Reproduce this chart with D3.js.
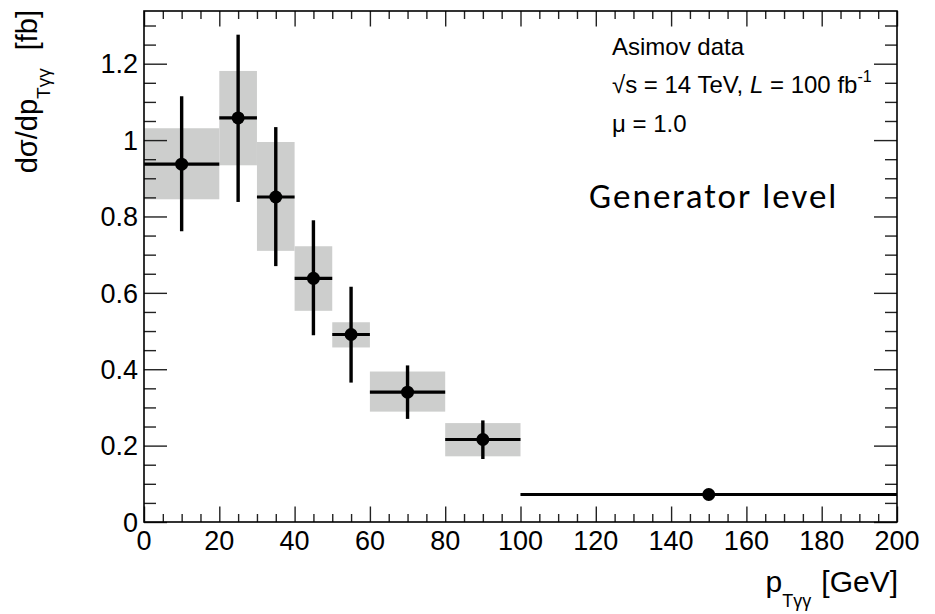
<!DOCTYPE html>
<html>
<head>
<meta charset="utf-8">
<script src="https://cdn.jsdelivr.net/npm/d3@7"></script>
<style>
  body { margin: 0; background: #fff; }
  text { font-family: "Liberation Sans", Arial, Helvetica, sans-serif; fill: #000; }
</style>
</head>
<body>
<svg id="chart" width="935" height="614"></svg>
<script>
// bins in p_T(gamma gamma) [GeV]
const binLow = [0, 20, 30, 40, 50, 60, 80, 100];
const binHigh = [20, 30, 40, 50, 60, 80, 100, 200];
const binCenter = [10, 25, 35, 45, 55, 70, 90, 150];
// d sigma / d pT [fb]
const xsec = [0.937, 1.058, 0.851, 0.638, 0.491, 0.340, 0.216, 0.072];
// black error bars (total)
const errUp = [1.115, 1.276, 1.034, 0.790, 0.616, 0.410, 0.266, 0.078];
const errDown = [0.761, 0.838, 0.670, 0.489, 0.365, 0.270, 0.165, 0.066];
// grey boxes
const boxUp = [1.031, 1.181, 0.995, 0.722, 0.523, 0.394, 0.259, 0.075];
const boxDown = [0.845, 0.934, 0.710, 0.553, 0.457, 0.289, 0.172, 0.069];
// axis ticks
const xTicks = [0, 20, 40, 60, 80, 100, 120, 140, 160, 180, 200];
const yTicks = [0, 0.2, 0.4, 0.6, 0.8, 1, 1.2];

const width = 935;
const height = 614;
const margin = { top: 11, right: 38, bottom: 92, left: 144 };
const svg = d3.select("#chart");

const x = d3.scaleLinear()
  .domain([0, 200])
  .range([margin.left, width - margin.right]);
const y = d3.scaleLinear()
  .domain([0, 1.338])
  .range([height - margin.bottom, margin.top]);

const xMinor = d3.range(0, 201, 5).filter(v => v % 20 !== 0);
const yMinor = d3.range(0, 27).map(i => i * 0.05).filter(v => Math.abs(v * 5 - Math.round(v * 5)) > 1e-6);

const rows = binCenter.map((c, i) => ({
  c, lo: binLow[i], hi: binHigh[i], v: xsec[i],
  eu: errUp[i], ed: errDown[i], bu: boxUp[i], bd: boxDown[i]
}));

// grey boxes
svg.append("g")
  .selectAll("rect")
  .data(rows)
  .join("rect")
  .attr("x", d => x(d.lo))
  .attr("width", d => x(d.hi) - x(d.lo))
  .attr("y", d => y(d.bu))
  .attr("height", d => y(d.bd) - y(d.bu))
  .attr("fill", "#cdcecd");

// error bars
const pts = svg.append("g");
pts.selectAll(".hbar")
  .data(rows)
  .join("line")
  .attr("class", "hbar")
  .attr("x1", d => x(d.lo))
  .attr("x2", d => x(d.hi))
  .attr("y1", d => y(d.v))
  .attr("y2", d => y(d.v))
  .attr("stroke", "#000")
  .attr("stroke-width", 3.2);
pts.selectAll(".vbar")
  .data(rows)
  .join("line")
  .attr("class", "vbar")
  .attr("x1", d => x(d.c))
  .attr("x2", d => x(d.c))
  .attr("y1", d => y(d.eu))
  .attr("y2", d => y(d.ed))
  .attr("stroke", "#000")
  .attr("stroke-width", 3.4);
pts.selectAll("circle")
  .data(rows)
  .join("circle")
  .attr("cx", d => x(d.c))
  .attr("cy", d => y(d.v))
  .attr("r", 6.5)
  .attr("fill", "#000");

// axes with ticks drawn inwards on all four sides
const y0 = height - margin.bottom;
const x1 = width - margin.right;

function tickAxis(axis, transform, values, size) {
  svg.append("g")
    .attr("transform", transform)
    .call(axis.tickValues(values).tickSizeInner(-size).tickSizeOuter(0).tickFormat(""))
    .call(g => g.select(".domain").remove())
    .call(g => g.selectAll("line").attr("stroke", "#222").attr("stroke-width", 1.4));
}
tickAxis(d3.axisBottom(x), `translate(0,${y0})`, xTicks, 15.5);
tickAxis(d3.axisBottom(x), `translate(0,${y0})`, xMinor, 8);
tickAxis(d3.axisTop(x), `translate(0,${margin.top})`, xTicks, 15.5);
tickAxis(d3.axisTop(x), `translate(0,${margin.top})`, xMinor, 8);
tickAxis(d3.axisLeft(y), `translate(${margin.left},0)`, yTicks, 23);
tickAxis(d3.axisLeft(y), `translate(${margin.left},0)`, yMinor, 12);
tickAxis(d3.axisRight(y), `translate(${x1},0)`, yTicks, 23);
tickAxis(d3.axisRight(y), `translate(${x1},0)`, yMinor, 12);

// tick labels
svg.append("g")
  .selectAll("text")
  .data(xTicks)
  .join("text")
  .attr("x", d => x(d))
  .attr("y", y0 + 28)
  .attr("text-anchor", "middle")
  .style("font-size", "27px")
  .text(d => d);
svg.append("g")
  .selectAll("text")
  .data(yTicks)
  .join("text")
  .attr("x", margin.left - 6)
  .attr("y", d => y(d))
  .attr("dy", "0.36em")
  .attr("text-anchor", "end")
  .style("font-size", "27px")
  .text(d => d3.format("~g")(d));

// frame
svg.append("rect")
  .attr("x", margin.left)
  .attr("y", margin.top)
  .attr("width", x1 - margin.left)
  .attr("height", y0 - margin.top)
  .attr("fill", "none")
  .attr("stroke", "#000")
  .attr("stroke-width", 1.6);

// axis titles
const yTitle = svg.append("text")
  .attr("transform", "translate(37,10) rotate(-90)")
  .attr("text-anchor", "end")
  .style("font-size", "29px");
yTitle.append("tspan").text("dσ/dp");
yTitle.append("tspan").attr("dy", 13).style("font-size", "19px").text("Tγγ");
yTitle.append("tspan").attr("dy", -13).attr("dx", 18).text("[fb]");

const xTitle = svg.append("text")
  .attr("x", 898)
  .attr("y", 592)
  .attr("text-anchor", "end")
  .style("font-size", "30px");
xTitle.append("tspan").text("p");
xTitle.append("tspan").attr("dy", 15).style("font-size", "18px").text("Tγγ");
xTitle.append("tspan").attr("dy", -15).attr("dx", 10).text("[GeV]");

// legend text
const leg = svg.append("g").style("font-size", "24px");
leg.append("text").attr("x", 612).attr("y", 55).text("Asimov data");
const l2 = leg.append("text").attr("x", 612).attr("y", 93);
l2.append("tspan").text("√s = 14 TeV, ");
l2.append("tspan").style("font-style", "italic").text("L");
l2.append("tspan").text(" = 100 fb");
l2.append("tspan").attr("dy", -11).style("font-size", "16px").text("-1");
leg.append("text").attr("x", 612).attr("y", 132).text("μ = 1.0");

svg.append("text")
  .attr("x", 589)
  .attr("y", 208)
  .style("font-family", "Carlito, Calibri, 'Open Sans', sans-serif")
  .style("font-size", "35px")
  .style("letter-spacing", "2px")
  .text("Generator level");
</script>
</body>
</html>
